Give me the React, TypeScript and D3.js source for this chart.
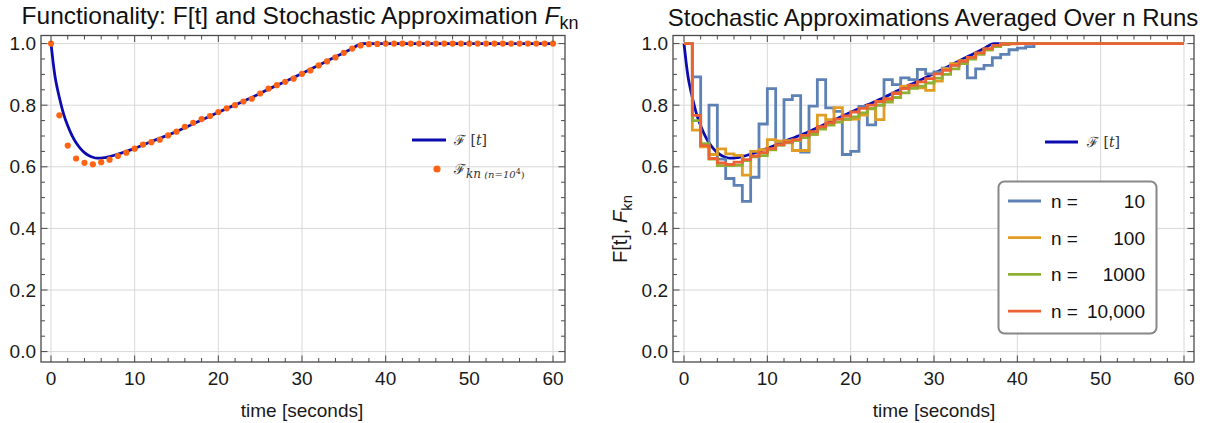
import React from "react";
import * as d3 from "d3";

// ---------- data ----------
const STEP_TIMES = d3.range(0, 61); // integer seconds 0..60

// smooth functionality curve F[t]
const F_T = [0, 0.25, 0.5, 0.75, 1, 1.5, 2, 2.5, 3, 3.5, 4, 4.5, 5, 5.5, 6, 6.5, 7, 8, 9, 10, 12, 14, 16, 18, 20, 22, 24, 26, 28, 30, 32, 34, 36, 37.2, 40, 50, 60];
const F_V = [1.0, 0.94, 0.89, 0.855, 0.825, 0.772, 0.733, 0.702, 0.678, 0.66, 0.646, 0.637, 0.631, 0.628, 0.628, 0.63, 0.633, 0.641, 0.65, 0.66, 0.682, 0.703, 0.727, 0.752, 0.777, 0.801, 0.825, 0.852, 0.877, 0.903, 0.93, 0.957, 0.984, 1.0, 1.0, 1.0, 1.0];

// stochastic approximation, n = 10^4 (dots on left, red steps on right)
const FKN_N10000 = [
  1.0, 0.767, 0.669, 0.627, 0.613, 0.608, 0.615, 0.623, 0.635, 0.646,
  0.659, 0.672, 0.68, 0.688, 0.702, 0.714, 0.73, 0.743, 0.755, 0.765,
  0.778, 0.79, 0.8, 0.812, 0.821, 0.838, 0.854, 0.865, 0.876, 0.886,
  0.902, 0.913, 0.929, 0.942, 0.955, 0.97, 0.984, 0.994, 0.998, 0.999,
  1.0, 1.0, 1.0, 1.0, 1.0, 1.0, 1.0, 1.0, 1.0, 1.0,
  1.0, 1.0, 1.0, 1.0, 1.0, 1.0, 1.0, 1.0, 1.0, 1.0, 1.0,
];
const FKN_N10 = [
  1.0, 0.892, 0.672, 0.8, 0.625, 0.562, 0.54, 0.488, 0.566, 0.739,
  0.854, 0.683, 0.818, 0.831, 0.648, 0.797, 0.883, 0.791, 0.78, 0.64,
  0.65, 0.796, 0.736, 0.8, 0.883, 0.867, 0.889, 0.883, 0.916, 0.902,
  0.908, 0.92, 0.93, 0.935, 0.889, 0.918, 0.929, 0.954, 0.965, 0.98,
  0.985, 0.99, 1.0, 1.0, 1.0, 1.0, 1.0, 1.0, 1.0, 1.0,
  1.0, 1.0, 1.0, 1.0, 1.0, 1.0, 1.0, 1.0, 1.0, 1.0, 1.0,
];
const FKN_N100 = [
  1.0, 0.719, 0.665, 0.64, 0.658, 0.642, 0.637, 0.573, 0.65, 0.656,
  0.688, 0.683, 0.685, 0.653, 0.653, 0.705, 0.768, 0.753, 0.792, 0.753,
  0.755, 0.768, 0.79, 0.753, 0.818, 0.84, 0.862, 0.862, 0.856, 0.848,
  0.878, 0.918, 0.935, 0.945, 0.955, 0.968, 0.98, 0.99, 1.0, 1.0,
  1.0, 1.0, 1.0, 1.0, 1.0, 1.0, 1.0, 1.0, 1.0, 1.0,
  1.0, 1.0, 1.0, 1.0, 1.0, 1.0, 1.0, 1.0, 1.0, 1.0, 1.0,
];
const FKN_N1000 = [
  1.0, 0.75, 0.675, 0.625, 0.604, 0.604, 0.605, 0.62, 0.632, 0.636,
  0.655, 0.67, 0.678, 0.685, 0.695, 0.705, 0.722, 0.735, 0.745, 0.755,
  0.762, 0.775, 0.788, 0.8, 0.81, 0.825, 0.84, 0.855, 0.862, 0.872,
  0.888, 0.9, 0.918, 0.935, 0.95, 0.965, 0.98, 0.99, 0.997, 1.0,
  1.0, 1.0, 1.0, 1.0, 1.0, 1.0, 1.0, 1.0, 1.0, 1.0,
  1.0, 1.0, 1.0, 1.0, 1.0, 1.0, 1.0, 1.0, 1.0, 1.0, 1.0,
];

const SERIES_NAMES = ["10", "100", "1000", "10,000"];
const SERIES_VALUES = [FKN_N10, FKN_N100, FKN_N1000, FKN_N10000];
const SERIES_COLORS = ["#5E81B5", "#E19C24", "#8FB032", "#EB6235"];

const X_TICKS = [0, 10, 20, 30, 40, 50, 60];
const X_TICK_LABELS = ["0", "10", "20", "30", "40", "50", "60"];
const Y_TICKS = [0, 0.2, 0.4, 0.6, 0.8, 1.0];
const Y_TICK_LABELS = ["0.0", "0.2", "0.4", "0.6", "0.8", "1.0"];

// ---------- style ----------
const SANS = "'Liberation Sans', Arial, sans-serif";
const SERIF = "'DejaVu Serif', 'Liberation Serif', serif";
const F_COLOR = "#0b0bb0";
const DOT_COLOR = "#ff6414";
const FRAME = "#4a4a4a";
const GRID = "#d8d8d8";
const TXT = "#1a1a1a";

type Fr = { x0: number; x1: number; y0: number; y1: number };

const yScale = d3.scaleLinear().domain([0, 1]).range([351.6, 43.6]);
const xLeft = d3.scaleLinear().domain([0, 60]).range([51, 553]);
const xRight = d3.scaleLinear().domain([0, 60]).range([684, 1184]);
const frL: Fr = { x0: 41, x1: 565, y0: 35.5, y1: 362 };
const frR: Fr = { x0: 673, x1: 1194, y0: 35.5, y1: 362 };

const minorX = d3.range(0, 61, 2).filter((v) => v % 10 !== 0);
const minorY = d3.range(0, 21).map((i) => i * 0.05).filter((_, i) => i % 4 !== 0);

function Grid({ xs, fr }: { xs: any; fr: Fr }) {
  return (
    <g>
      {X_TICKS.map((v) => (
        <line key={"gx" + v} x1={xs(v)} x2={xs(v)} y1={fr.y0} y2={fr.y1} stroke={GRID} strokeWidth={1} />
      ))}
      {Y_TICKS.map((v) => (
        <line key={"gy" + v} x1={fr.x0} x2={fr.x1} y1={yScale(v)} y2={yScale(v)} stroke={GRID} strokeWidth={1} />
      ))}
    </g>
  );
}

function FrameAxes({ xs, fr }: { xs: any; fr: Fr }) {
  const maj = 6.5;
  const min = 4;
  return (
    <g>
      <rect x={fr.x0} y={fr.y0} width={fr.x1 - fr.x0} height={fr.y1 - fr.y0} fill="none" stroke={FRAME} strokeWidth={1.3} />
      {X_TICKS.map((v) => (
        <g key={"tx" + v}>
          <line x1={xs(v)} x2={xs(v)} y1={fr.y1} y2={fr.y1 - maj} stroke={FRAME} />
          <line x1={xs(v)} x2={xs(v)} y1={fr.y0} y2={fr.y0 + maj} stroke={FRAME} />
        </g>
      ))}
      {minorX.map((v) => (
        <g key={"mx" + v}>
          <line x1={xs(v)} x2={xs(v)} y1={fr.y1} y2={fr.y1 - min} stroke={FRAME} />
          <line x1={xs(v)} x2={xs(v)} y1={fr.y0} y2={fr.y0 + min} stroke={FRAME} />
        </g>
      ))}
      {Y_TICKS.map((v) => (
        <g key={"ty" + v}>
          <line x1={fr.x0} x2={fr.x0 + maj} y1={yScale(v)} y2={yScale(v)} stroke={FRAME} />
          <line x1={fr.x1} x2={fr.x1 - maj} y1={yScale(v)} y2={yScale(v)} stroke={FRAME} />
        </g>
      ))}
      {minorY.map((v) => (
        <g key={"my" + v}>
          <line x1={fr.x0} x2={fr.x0 + min} y1={yScale(v)} y2={yScale(v)} stroke={FRAME} />
          <line x1={fr.x1} x2={fr.x1 - min} y1={yScale(v)} y2={yScale(v)} stroke={FRAME} />
        </g>
      ))}
      {X_TICKS.map((v, i) => (
        <text key={"lx" + v} x={xs(v)} y={fr.y1 + 22.5} textAnchor="middle" fontFamily={SANS} fontSize={19} fill={TXT}>
          {X_TICK_LABELS[i]}
        </text>
      ))}
      {Y_TICKS.map((v, i) => (
        <text key={"ly" + v} x={fr.x0 - 5} y={yScale(v) + 6.5} textAnchor="end" fontFamily={SANS} fontSize={19} fill={TXT}>
          {Y_TICK_LABELS[i]}
        </text>
      ))}
      <text x={(xs(0) + xs(60)) / 2} y={416.5} textAnchor="middle" fontFamily={SANS} fontSize={19} fill={TXT}>
        time [seconds]
      </text>
    </g>
  );
}

export default function App() {
  const fPts: [number, number][] = F_T.map((t, i) => [t, F_V[i]]);
  const lineL = d3.line<[number, number]>().x((d) => xLeft(d[0])).y((d) => yScale(d[1])).curve(d3.curveMonotoneX);
  const lineR = d3.line<[number, number]>().x((d) => xRight(d[0])).y((d) => yScale(d[1])).curve(d3.curveMonotoneX);
  const stepR = d3.line<[number, number]>().x((d) => xRight(d[0])).y((d) => yScale(d[1])).curve(d3.curveStepAfter);

  return (
    <svg width={1212} height={423} style={{ position: "absolute", left: 0, top: 0, background: "#fff" }}>
      {/* ---------- left panel ---------- */}
      <text x={300} y={24} textAnchor="middle" fontFamily={SANS} fontSize={24.5} fill="#111">
        Functionality: F[t] and Stochastic Approximation <tspan fontStyle="italic">F</tspan>
        <tspan fontSize={18} dy={5}>kn</tspan>
      </text>
      <Grid xs={xLeft} fr={frL} />
      <path d={lineL(fPts) || ""} fill="none" stroke={F_COLOR} strokeWidth={2.8} />
      {STEP_TIMES.map((t, i) => (
        <circle key={"d" + t} cx={xLeft(t)} cy={yScale(FKN_N10000[i])} r={3.1} fill={DOT_COLOR} />
      ))}
      <FrameAxes xs={xLeft} fr={frL} />
      {/* left legend */}
      <line x1={412} x2={446} y1={140} y2={140} stroke={F_COLOR} strokeWidth={2.8} />
      <text x={454} y={145} fontFamily={SERIF} fontSize={14} fill="#333">
        ℱ [<tspan fontStyle="italic">t</tspan>]
      </text>
      <circle cx={437} cy={169} r={3.6} fill={DOT_COLOR} />
      <text x={454} y={174} fontFamily={SERIF} fontSize={14} fill="#333">
        ℱ
        <tspan fontSize={12} fontStyle="italic" dy={4}>kn</tspan>
        <tspan fontSize={10} fontStyle="italic"> (n=10</tspan>
        <tspan fontSize={8} dy={-4}>4</tspan>
        <tspan fontSize={10} dy={4}>)</tspan>
      </text>

      {/* ---------- right panel ---------- */}
      <text x={933} y={26} textAnchor="middle" fontFamily={SANS} fontSize={24} fill="#111">
        Stochastic Approximations Averaged Over n Runs
      </text>
      <Grid xs={xRight} fr={frR} />
      <path d={lineR(fPts) || ""} fill="none" stroke={F_COLOR} strokeWidth={2.8} />
      {SERIES_VALUES.map((vals, si) => (
        <path
          key={"s" + si}
          d={stepR(STEP_TIMES.map((t, i) => [t, vals[i]] as [number, number])) || ""}
          fill="none"
          stroke={SERIES_COLORS[si]}
          strokeWidth={2.8}
          strokeLinejoin="miter"
        />
      ))}
      <FrameAxes xs={xRight} fr={frR} />
      <text transform="translate(627,229) rotate(-90)" textAnchor="middle" fontFamily={SANS} fontSize={20} fill={TXT}>
        F[t], <tspan fontStyle="italic">F</tspan>
        <tspan fontSize={15} dy={5}>kn</tspan>
      </text>
      {/* right legends */}
      <line x1={1045} x2={1078} y1={142} y2={142} stroke={F_COLOR} strokeWidth={2.8} />
      <text x={1087} y={147} fontFamily={SERIF} fontSize={14} fill="#333">
        ℱ [<tspan fontStyle="italic">t</tspan>]
      </text>
      <rect x={998.5} y={181.5} width={158} height={152} rx={6} ry={6} fill="#fff" stroke="#888" strokeWidth={2} />
      {SERIES_NAMES.map((name, i) => {
        const yy = 201 + i * 36.7;
        return (
          <g key={"lg" + i}>
            <line x1={1008} x2={1041} y1={yy} y2={yy} stroke={SERIES_COLORS[i]} strokeWidth={2.8} />
            <text x={1051} y={yy + 7} fontFamily={SANS} fontSize={19} fill="#111">n =</text>
            <text x={1145} y={yy + 7} textAnchor="end" fontFamily={SANS} fontSize={19} fill="#111">{name}</text>
          </g>
        );
      })}
    </svg>
  );
}
